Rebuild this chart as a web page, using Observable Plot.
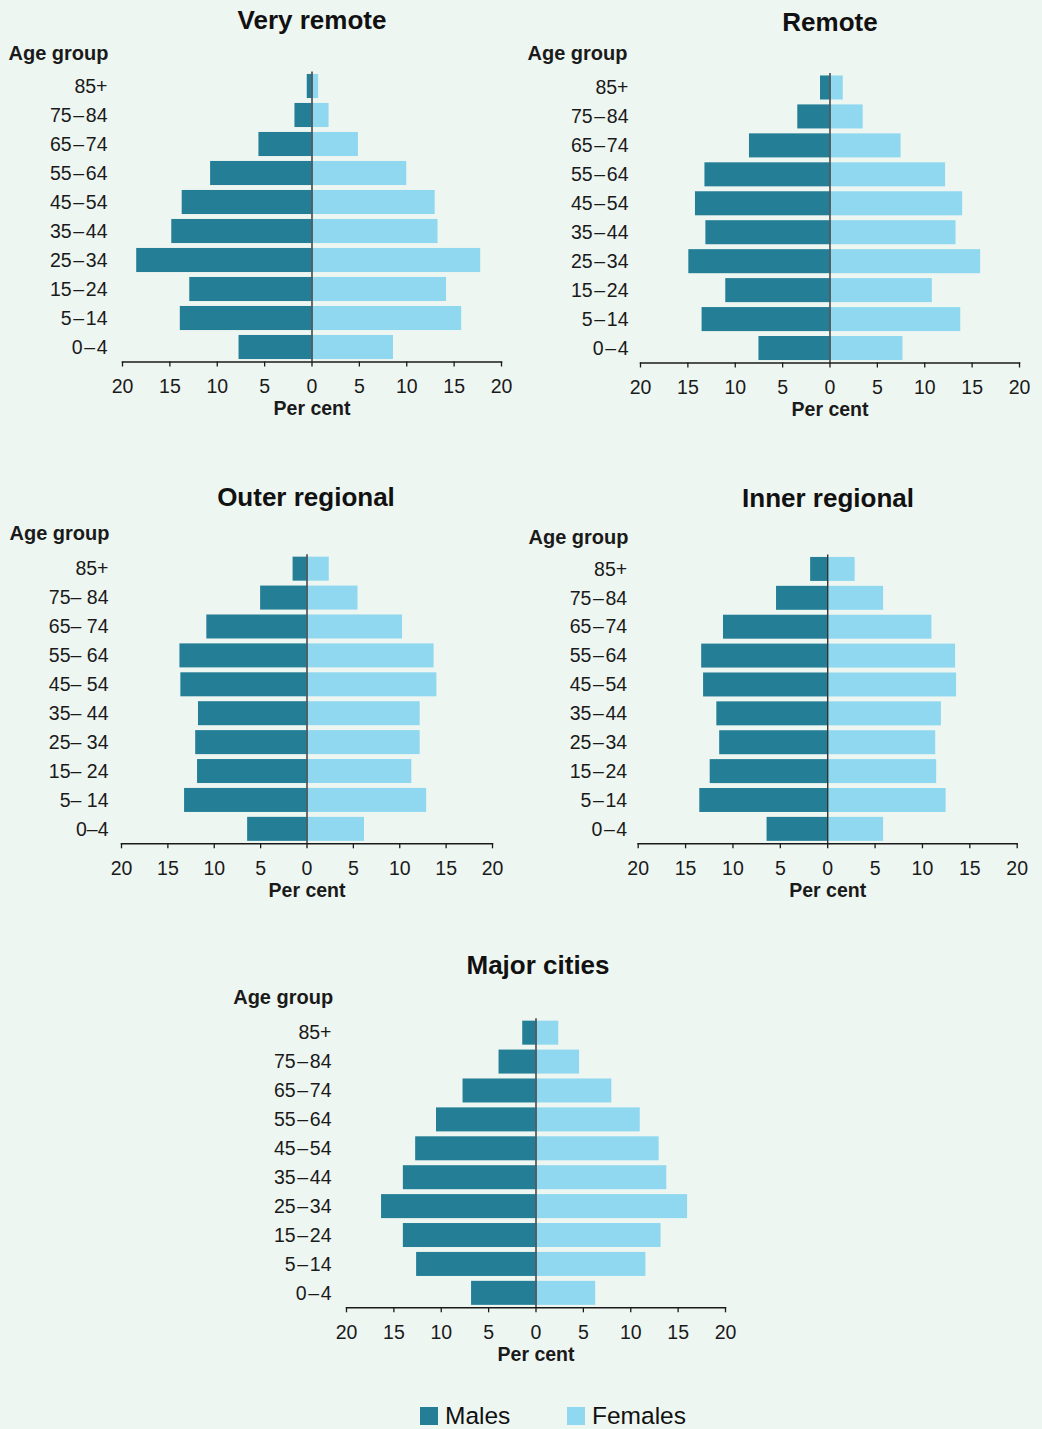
<!DOCTYPE html>
<html>
<head>
<meta charset="utf-8">
<script src="https://cdn.jsdelivr.net/npm/d3@7"></script>
<script src="https://cdn.jsdelivr.net/npm/@observablehq/plot@0.6"></script>
<style>
  html, body { margin: 0; padding: 0; background: #eef6f1; }
  #page { position: relative; width: 1042px; height: 1429px; background: #eef6f1; font-family: "Liberation Sans", Arial, Helvetica, sans-serif; color: #111; overflow: hidden; }
  .title { position: absolute; font-weight: bold; font-size: 26px; white-space: nowrap; transform: translate(-50%, -50%); line-height: 1; }
  .panel { position: absolute; }
  .legend { position: absolute; font-size: 24.5px; line-height: 1; white-space: nowrap; }
  .sw { position: absolute; width: 18px; height: 18px; }
</style>
</head>
<body>
<div id="page"></div>
<script>
// ---- Data ----
const ageGroups = ["0–4", "5–14", "15–24", "25–34", "35–44", "45–54", "55–64", "65–74", "75–84", "85+"];
const ageLabels = ["0\u200A–\u200A4", "5\u200A–\u200A14", "15\u200A–\u200A24", "25\u200A–\u200A34", "35\u200A–\u200A44", "45\u200A–\u200A54", "55\u200A–\u200A64", "65\u200A–\u200A74", "75\u200A–\u200A84", "85+"];
const ageLabelsOuter = ["0–4", "5– 14", "15– 24", "25– 34", "35– 44", "45– 54", "55– 64", "65– 74", "75– 84", "85+"];
const xTicks = [-20, -15, -10, -5, 0, 5, 10, 15, 20];

const veryRemoteMales   = [7.7, 13.9, 12.9, 18.5, 14.8, 13.7, 10.7, 5.6, 1.8, 0.5];
const veryRemoteFemales = [8.6, 15.8, 14.2, 17.8, 13.3, 13.0, 10.0, 4.9, 1.8, 0.7];
const remoteMales       = [7.5, 13.5, 11.0, 14.9, 13.1, 14.2, 13.2, 8.5, 3.4, 1.0];
const remoteFemales     = [7.7, 13.8, 10.8, 15.9, 13.3, 14.0, 12.2, 7.5, 3.5, 1.4];
const outerMales        = [6.4, 13.2, 11.8, 12.0, 11.7, 13.6, 13.7, 10.8, 5.0, 1.5];
const outerFemales      = [6.2, 12.9, 11.3, 12.2, 12.2, 14.0, 13.7, 10.3, 5.5, 2.4];
const innerMales        = [6.4, 13.5, 12.4, 11.4, 11.7, 13.1, 13.3, 11.0, 5.4, 1.8];
const innerFemales      = [5.9, 12.5, 11.5, 11.4, 12.0, 13.6, 13.5, 11.0, 5.9, 2.9];
const majorMales        = [6.8, 12.6, 14.0, 16.3, 14.0, 12.7, 10.5, 7.7, 3.9, 1.4];
const majorFemales      = [6.3, 11.6, 13.2, 16.0, 13.8, 13.0, 11.0, 8.0, 4.6, 2.4];

const seriesNames = ["Males", "Females"];

// ---- Styles / layout ----
const maleColor = "#237e96";
const femaleColor = "#8fd8f0";
const inkColor = "#1a1a1a";
const fontFamily = "'Liberation Sans', Arial, Helvetica, sans-serif";

const panels = [
  {title: "Very remote", males: veryRemoteMales, females: veryRemoteFemales, labels: ageLabels,
   L: 0, T: 30, W: 520, H: 400, fx0: 122, fx1: 501, fy0: 71.5, fy1: 361.5, tx: 312, ty: 20, agX: 8, agY: 53, pad: 15},
  {title: "Remote", males: remoteMales, females: remoteFemales, labels: ageLabels,
   L: 520, T: 30, W: 522, H: 400, fx0: 640, fx1: 1019, fy0: 73, fy1: 362.5, tx: 830, ty: 22, agX: 527, agY: 53, pad: 12},
  {title: "Outer regional", males: outerMales, females: outerFemales, labels: ageLabelsOuter,
   L: 0, T: 510, W: 520, H: 400, fx0: 121, fx1: 492, fy0: 554.2, fy1: 843.3, tx: 306, ty: 497, agX: 9, agY: 533, pad: 13},
  {title: "Inner regional", males: innerMales, females: innerFemales, labels: ageLabels,
   L: 520, T: 510, W: 522, H: 400, fx0: 637.7, fx1: 1016.7, fy0: 554.5, fy1: 843.3, tx: 828, ty: 498, agX: 528, agY: 537, pad: 11},
  {title: "Major cities", males: majorMales, females: majorFemales, labels: ageLabels,
   L: 220, T: 975, W: 540, H: 400, fx0: 346, fx1: 725, fy0: 1018.2, fy1: 1307.3, tx: 538, ty: 965, agX: 232.7, agY: 997, pad: 15}
];

const page = document.getElementById("page");

for (const p of panels) {
  const rows = ageGroups.map((a, i) => ({age: a, label: p.labels[i], male: p.males[i], female: p.females[i]}));
  const labelOf = new Map(rows.map(r => [r.age, r.label]));

  const chart = Plot.plot({
    width: p.W,
    height: p.H,
    marginLeft: p.fx0 - p.L,
    marginRight: p.L + p.W - p.fx1,
    marginTop: p.fy0 - p.T,
    marginBottom: p.T + p.H - p.fy1,
    style: {background: "transparent", fontFamily: fontFamily, fontSize: "19.5px", color: inkColor, overflow: "visible"},
    x: {domain: [-20, 20]},
    y: {domain: ageGroups.slice().reverse(), paddingInner: 0.17, paddingOuter: 0.085, round: false},
    marks: [
      Plot.barX(rows, {y: "age", x1: 0, x2: d => -d.male, fill: maleColor}),
      Plot.barX(rows, {y: "age", x1: 0, x2: "female", fill: femaleColor}),
      Plot.ruleX([0], {stroke: "#333", strokeWidth: 1.4}),
      Plot.frame({anchor: "bottom", stroke: inkColor, strokeWidth: 1.5}),
      Plot.axisX({ticks: xTicks, tickFormat: d => Math.abs(d), tickSize: 5, tickPadding: 12, label: null, stroke: inkColor, strokeWidth: 1.3, fill: inkColor, fontSize: 19.5}),
      Plot.axisY({tickSize: 0, tickPadding: p.pad, tickFormat: d => labelOf.get(d), label: null, fill: inkColor, fontSize: 19.5}),
      Plot.text(["Age group"], {frameAnchor: "top-left", lineAnchor: "middle", dx: p.agX - p.fx0, dy: p.agY - p.fy0, textAnchor: "start", fontWeight: "bold", fontSize: 20, fill: inkColor}),
      Plot.text(["Per cent"], {frameAnchor: "bottom", lineAnchor: "middle", dy: 46.5, fontWeight: "bold", fontSize: 19.5, fill: inkColor})
    ]
  });
  chart.classList.add("panel");
  chart.style.left = p.L + "px";
  chart.style.top = p.T + "px";
  page.appendChild(chart);

  const t = document.createElement("div");
  t.className = "title";
  t.textContent = p.title;
  t.style.left = p.tx + "px";
  t.style.top = p.ty + "px";
  page.appendChild(t);
}

// ---- Legend ----
const legendItems = [
  {name: seriesNames[0], color: maleColor, sx: 420, tx: 445},
  {name: seriesNames[1], color: femaleColor, sx: 567, tx: 592}
];
for (const it of legendItems) {
  const sw = document.createElement("div");
  sw.className = "sw";
  sw.style.left = it.sx + "px";
  sw.style.top = "1407px";
  sw.style.background = it.color;
  page.appendChild(sw);
  const lt = document.createElement("div");
  lt.className = "legend";
  lt.textContent = it.name;
  lt.style.left = it.tx + "px";
  lt.style.top = "1404px";
  page.appendChild(lt);
}
</script>
</body>
</html>
